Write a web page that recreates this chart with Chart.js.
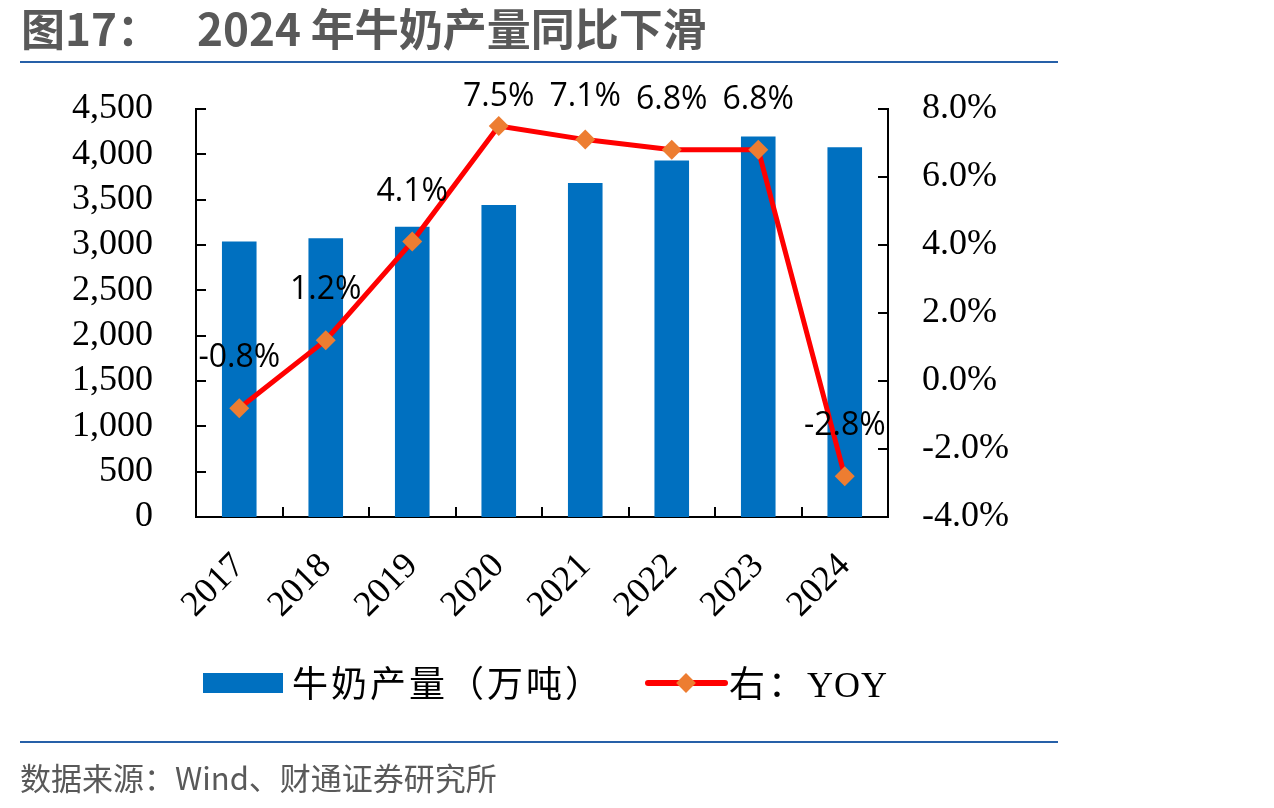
<!DOCTYPE html>
<html>
<head>
<meta charset="utf-8">
<script src="https://cdn.jsdelivr.net/npm/chart.js@4.4.1/dist/chart.umd.min.js"></script>
<style>
    body {
        margin: 0;
        background: #fff;
        width: 1274px;
        height: 808px;
        position: relative;
        overflow: hidden;
    }

    #chart {
        position: absolute;
        left: 0;
        top: 0;
    }

    .title {
        position: absolute;
        top: -4px;
        font: bold 44px "Noto Sans CJK SC";
        color: #595959;
        white-space: pre;
        line-height: 62px;
    }

    .rule {
        position: absolute;
        left: 20px;
        width: 1038px;
        height: 2px;
        background: #2660a8;
    }

    .legend-text {
        position: absolute;
        top: 655px;
        height: 40px;
        line-height: 40px;
        font: 36px "Liberation Serif", "Noto Sans CJK SC";
        color: #000;
        white-space: pre;
        letter-spacing: 3px;
    }

    .swatch-bar {
        position: absolute;
        left: 203px;
        top: 673px;
        width: 80px;
        height: 20px;
        background: #0070c0;
    }

    .swatch-line {
        position: absolute;
        left: 645px;
        top: 680px;
        width: 83px;
        height: 6px;
        border-radius: 3px;
        background: #ff0000;
    }

    .swatch-diamond {
        position: absolute;
        left: 679px;
        top: 676px;
        width: 14px;
        height: 14px;
        background: #ed7d31;
        transform: rotate(45deg);
    }

    .source {
        position: absolute;
        left: 20px;
        top: 757px;
        font: 31px "Noto Sans CJK SC";
        color: #595959;
        line-height: 40px;
        white-space: pre;
    }
</style>
</head>
<body>
<canvas id="chart" width="1274" height="808"></canvas>

<div class="title" style="left: 21px;">图17：</div>
<div class="title" style="left: 197px;">2024 年牛奶产量同比下滑</div>
<div class="rule" style="top: 61px;"></div>

<div class="swatch-bar"></div>
<div class="legend-text" style="left: 292px;">牛奶产量（万吨）</div>
<div class="swatch-line"></div>
<div class="swatch-diamond"></div>
<div class="legend-text" style="left: 729px;">右：<span style="letter-spacing: 1px;">YOY</span></div>

<div class="rule" style="top: 741px;"></div>
<div class="source">数据来源：Wind、财通证券研究所</div>

<script>
const years = ["2017", "2018", "2019", "2020", "2021", "2022", "2023", "2024"];
const milkOutput = [3039, 3075, 3201, 3440, 3683, 3932, 4197, 4079];
const milkYoy = [-0.8, 1.2, 4.1, 7.5, 7.1, 6.8, 6.8, -2.8];

const tickFont = { family: "Liberation Serif", size: 36 };

// axis ticks in the reference point into the plot, so draw them by hand
const inwardTicks = {
    id: "inwardTicks",
    afterDatasetsDraw(chart) {
        const { ctx, chartArea: area, scales } = chart;
        ctx.save();
        ctx.strokeStyle = "#000";
        ctx.lineWidth = 2;
        ctx.beginPath();
        scales.y.ticks.forEach((t, i) => {
            const p = Math.round(scales.y.getPixelForTick(i));
            ctx.moveTo(area.left, p);
            ctx.lineTo(area.left + 10, p);
        });
        scales.y1.ticks.forEach((t, i) => {
            const p = Math.round(scales.y1.getPixelForTick(i));
            ctx.moveTo(area.right, p);
            ctx.lineTo(area.right - 10, p);
        });
        for (let i = 1; i < years.length; i++) {
            const p = Math.round((scales.x.getPixelForValue(i - 1) + scales.x.getPixelForValue(i)) / 2);
            ctx.moveTo(p, area.bottom);
            ctx.lineTo(p, area.bottom - 10);
        }
        ctx.stroke();
        ctx.restore();
    }
};

const yoyLabels = {
    id: "yoyLabels",
    afterDatasetsDraw(chart) {
        const { ctx } = chart;
        const meta = chart.getDatasetMeta(1);
        ctx.save();
        ctx.font = "32px 'Open Sans'";
        ctx.fillStyle = "#000";
        ctx.textAlign = "center";
        ctx.textBaseline = "middle";
        meta.data.forEach((pt, i) => {
            const y = Math.max(pt.y - 50, 97);
            ctx.fillText(milkYoy[i].toFixed(1) + "%", pt.x, y);
        });
        ctx.restore();
    }
};

new Chart(document.getElementById("chart"), {
    data: {
        labels: years,
        datasets: [
            {
                type: "bar",
                label: "牛奶产量（万吨）",
                data: milkOutput,
                backgroundColor: "#0070c0",
                barPercentage: 0.4,
                categoryPercentage: 1,
                yAxisID: "y",
                order: 2
            },
            {
                type: "line",
                label: "右：YOY",
                data: milkYoy,
                borderColor: "#ff0000",
                borderWidth: 5,
                pointStyle: "rectRot",
                pointRadius: 10,
                pointBackgroundColor: "#ed7d31",
                pointBorderColor: "#ed7d31",
                pointBorderWidth: 0,
                tension: 0,
                yAxisID: "y1",
                order: 1
            }
        ]
    },
    options: {
        responsive: false,
        animation: false,
        layout: { padding: { top: 109, left: 0, right: 0, bottom: 0 } },
        plugins: {
            legend: { display: false },
            tooltip: { enabled: false }
        },
        scales: {
            x: {
                grid: { display: false },
                border: { color: "#000", width: 2 },
                ticks: {
                    font: tickFont,
                    color: "#000",
                    minRotation: 45,
                    maxRotation: 45,
                    padding: 20
                },
                afterFit(scale) { scale.height = 808 - 517; }
            },
            y: {
                position: "left",
                min: 0,
                max: 4500,
                grid: { display: false },
                border: { color: "#000", width: 2 },
                ticks: {
                    stepSize: 500,
                    autoSkip: false,
                    font: tickFont,
                    color: "#000",
                    padding: 35,
                    callback: v => v.toLocaleString("en-US")
                },
                afterFit(scale) { scale.width = 196; }
            },
            y1: {
                position: "right",
                min: -4,
                max: 8,
                grid: { display: false },
                border: { color: "#000", width: 2 },
                ticks: {
                    stepSize: 2,
                    autoSkip: false,
                    font: tickFont,
                    color: "#000",
                    padding: 26,
                    callback: v => v.toFixed(1) + "%"
                },
                afterFit(scale) { scale.width = 1274 - 888; }
            }
        }
    },
    plugins: [inwardTicks, yoyLabels]
});
</script>
</body>
</html>
